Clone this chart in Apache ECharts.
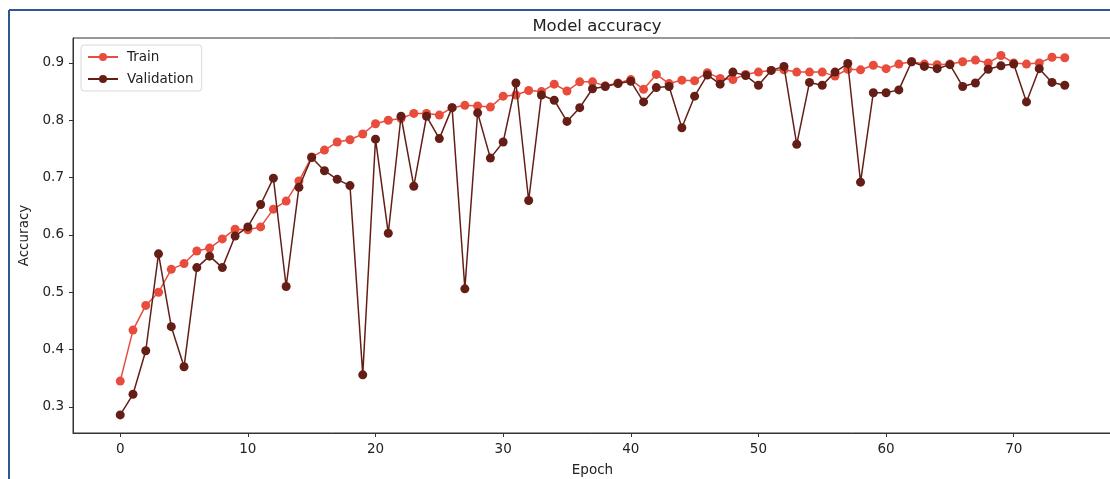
<!DOCTYPE html>
<html>
<head>
<meta charset="utf-8">
<script src="https://cdn.jsdelivr.net/npm/echarts@6/dist/echarts.min.js"></script>
<style>
html,body{margin:0;padding:0;background:#fff;}
#chart{width:1110px;height:479px;}
</style>
</head>
<body>
<div id="chart"></div>
<script>
const epochs = Array.from({length: 75}, (_, i) => i);
const trainAcc = [0.345,0.434,0.477,0.500,0.540,0.550,0.572,0.577,0.593,0.610,
  0.609,0.614,0.645,0.659,0.694,0.736,0.748,0.762,0.766,0.776,
  0.794,0.800,0.803,0.812,0.812,0.809,0.822,0.826,0.825,0.823,
  0.842,0.844,0.852,0.850,0.863,0.851,0.867,0.867,0.860,0.865,
  0.871,0.854,0.880,0.864,0.870,0.869,0.883,0.873,0.871,0.880,
  0.884,0.887,0.888,0.884,0.884,0.884,0.877,0.889,0.888,0.896,
  0.890,0.898,0.902,0.898,0.897,0.898,0.902,0.905,0.900,0.913,
  0.900,0.898,0.900,0.910,0.909];
const valAcc = [0.286,0.322,0.398,0.567,0.440,0.370,0.543,0.563,0.543,0.598,
  0.614,0.653,0.699,0.510,0.683,0.735,0.712,0.697,0.686,0.356,
  0.767,0.603,0.807,0.685,0.807,0.768,0.822,0.506,0.813,0.734,
  0.762,0.865,0.660,0.844,0.835,0.798,0.822,0.855,0.859,0.864,
  0.868,0.832,0.857,0.859,0.787,0.842,0.879,0.863,0.884,0.878,
  0.861,0.887,0.894,0.758,0.866,0.861,0.884,0.899,0.692,0.848,
  0.848,0.853,0.902,0.894,0.890,0.897,0.859,0.865,0.889,0.895,
  0.898,0.832,0.890,0.866,0.861];
const xTicks = [0,10,20,30,40,50,60,70];
const yTicks = [0.3,0.4,0.5,0.6,0.7,0.8,0.9];

const FONT = 'DejaVu Sans';
const chart = echarts.init(document.getElementById('chart'), null, {renderer: 'canvas'});
chart.setOption({
  animation: false,
  backgroundColor: '#fff',
  textStyle: {fontFamily: FONT},
  title: {
    text: 'Model accuracy', left: 592, top: 13, textAlign: 'center',
    textStyle: {fontFamily: FONT, fontSize: 16.5, fontWeight: 'normal', color: '#222'}
  },
  legend: {
    orient: 'vertical', left: 81, top: 45,
    padding: [5, 8, 5, 6], itemGap: 8, itemWidth: 30, itemHeight: 10,
    backgroundColor: '#fff', borderColor: '#d8d8d8', borderWidth: 1, borderRadius: 3,
    textStyle: {fontFamily: FONT, fontSize: 13.5, color: '#222', padding: [0,0,0,4]},
    data: ['Train', 'Validation']
  },
  grid: {
    left: 73, top: 38, right: -2, bottom: 46,
    containLabel: false, outerBoundsMode: 'none',
    show: true, borderColor: '#333', borderWidth: 1, backgroundColor: 'transparent'
  },
  xAxis: {
    type: 'value', min: -3.7, max: 77.7,
    name: 'Epoch', nameLocation: 'middle', nameGap: 30,
    nameTextStyle: {fontFamily: FONT, fontSize: 13.5, color: '#222'},
    axisLine: {show: true, onZero: false, lineStyle: {color: '#333', width: 1}},
    axisTick: {show: true, length: 4, customValues: xTicks, lineStyle: {color: '#333'}},
    axisLabel: {customValues: xTicks, margin: 9, fontFamily: FONT, fontSize: 13.5, color: '#222'},
    splitLine: {show: false}
  },
  yAxis: {
    type: 'value', min: 0.2545, max: 0.9435,
    name: 'Accuracy', nameLocation: 'middle', nameGap: 35, nameRotate: 90,
    nameTextStyle: {fontFamily: FONT, fontSize: 13.5, color: '#222'},
    axisLine: {show: true, onZero: false, lineStyle: {color: '#333', width: 1}},
    axisTick: {show: true, length: 4, customValues: yTicks, lineStyle: {color: '#333'}},
    axisLabel: {customValues: yTicks, margin: 9, fontFamily: FONT, fontSize: 13.5, color: '#222',
      formatter: v => v.toFixed(1)},
    splitLine: {show: false}
  },
  series: [
    {
      name: 'Train', type: 'line', symbol: 'circle', symbolSize: 9,
      data: epochs.map((e, i) => [e, trainAcc[i]]),
      lineStyle: {color: '#e74c3c', width: 1.5},
      itemStyle: {color: '#e74c3c'}, z: 2
    },
    {
      name: 'Validation', type: 'line', symbol: 'circle', symbolSize: 9,
      data: epochs.map((e, i) => [e, valAcc[i]]),
      lineStyle: {color: '#641e16', width: 1.5},
      itemStyle: {color: '#641e16'}, z: 3
    }
  ],
  graphic: [
    {type: 'line', shape: {x1: 9, y1: 10, x2: 1110, y2: 10}, style: {stroke: '#2f5597', lineWidth: 2}, silent: true},
    {type: 'line', shape: {x1: 9, y1: 10, x2: 9, y2: 479}, style: {stroke: '#2f5597', lineWidth: 2}, silent: true}
  ]
});
</script>
</body>
</html>
